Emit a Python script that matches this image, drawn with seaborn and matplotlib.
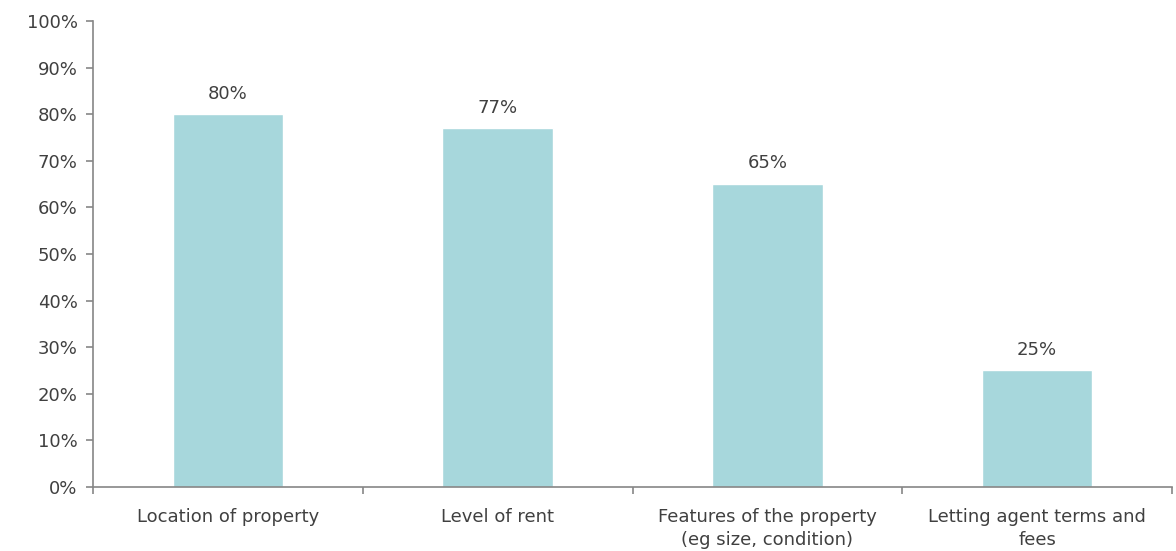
import matplotlib
matplotlib.use("Agg")
import matplotlib.pyplot as plt
import seaborn as sns
import pandas as pd

categories = ["Location of property", "Level of rent",
              "Features of the property\n(eg size, condition)",
              "Letting agent terms and\nfees"]
values = [80, 77, 65, 25]
y_ticks = [0, 10, 20, 30, 40, 50, 60, 70, 80, 90, 100]

sns.set_style("white")
plt.rcParams['font.family'] = ['DejaVu Sans']
plt.rcParams['font.sans-serif'] = ['DejaVu Sans']

fig = plt.figure(figsize=(11.76, 5.51), dpi=100)
ax = fig.add_axes([0.0791, 0.1162, 0.9175, 0.8457])

df = pd.DataFrame({"cat": categories, "val": values})
sns.barplot(data=df, x="cat", y="val", color="#A7D7DC", width=0.41,
            saturation=1, ax=ax)

text_c = "#404040"
axis_c = "#868686"
fs = 13

for i, v in enumerate(values):
    ax.text(i, v + 2.5, f"{v}%", ha="center", va="bottom",
            fontsize=fs, color=text_c)

ax.set_ylim(0, 100)
ax.set_xlim(-0.5, len(categories) - 0.5)
ax.set_yticks(y_ticks)
ax.set_yticklabels([f"{t}%" for t in y_ticks], fontsize=fs, color=text_c)

ax.set_xticks([i - 0.5 for i in range(len(categories) + 1)])
ax.set_xticklabels([])
ax.set_xticks(range(len(categories)), minor=True)
ax.set_xticklabels(categories, minor=True, fontsize=fs, color=text_c,
                   linespacing=1.4)
ax.tick_params(axis="x", which="minor", length=0, pad=15)
ax.tick_params(axis="x", which="major", direction="out", length=5,
               color=axis_c, width=1.2, bottom=True)
ax.tick_params(axis="y", direction="out", length=5, color=axis_c,
               width=1.2, left=True, pad=6)

for s in ["top", "right"]:
    ax.spines[s].set_visible(False)
for s in ["left", "bottom"]:
    ax.spines[s].set_color(axis_c)
    ax.spines[s].set_linewidth(1.2)

ax.set_xlabel("")
ax.set_ylabel("")

fig.savefig("out.png", dpi=100)
